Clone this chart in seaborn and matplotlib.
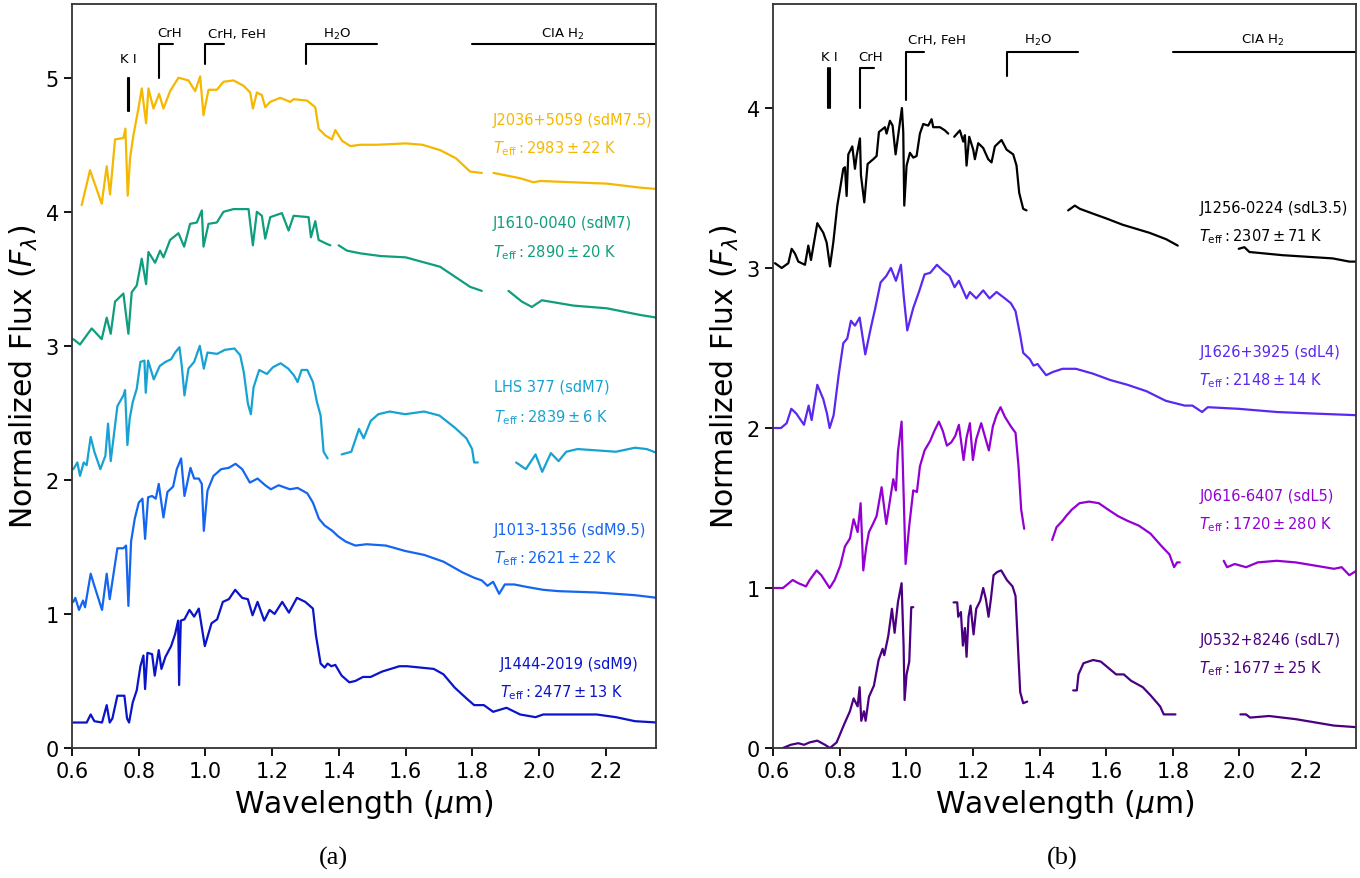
import numpy as np
import pandas as pd
import matplotlib
matplotlib.use("Agg")
import matplotlib.pyplot as plt
import seaborn as sns

nan = float("nan")

# ---- panel (a): sdM spectra (wavelength in micron, normalized flux + offset) ----
j2036_wl = [0.629, 0.654, 0.689, 0.704, 0.714, 0.729, 0.754, 0.760, 0.767, 0.774, 0.784, 0.799, 0.809,
            0.822, 0.829, 0.844, 0.861, 0.874, 0.894, 0.919, 0.949, 0.969, 0.984, 0.994, 1.009, 1.034,
            1.054, 1.084, 1.114, 1.134, 1.142, 1.154, 1.169, 1.179, 1.194, 1.224, 1.254, 1.264, 1.304,
            1.329, 1.339, 1.359, 1.379, 1.389, 1.409, 1.434, 1.464, 1.514, 1.600, 1.650, 1.703, 1.750,
            1.793, 1.828, nan, 1.863, 1.903, 1.943, 1.983, 2.003, 2.102, 2.203, 2.303, 2.353]
j2036_fl = [4.05, 4.31, 4.06, 4.34, 4.13, 4.54, 4.55, 4.62, 4.12, 4.40, 4.57, 4.77, 4.92,
            4.66, 4.92, 4.77, 4.88, 4.77, 4.90, 5.00, 4.98, 4.90, 5.01, 4.72, 4.91, 4.91,
            4.97, 4.98, 4.94, 4.89, 4.77, 4.89, 4.87, 4.78, 4.82, 4.85, 4.82, 4.84, 4.83,
            4.78, 4.62, 4.57, 4.54, 4.61, 4.53, 4.49, 4.50, 4.50, 4.51, 4.50, 4.46, 4.40,
            4.30, 4.29, nan, 4.29, 4.27, 4.25, 4.22, 4.23, 4.22, 4.21, 4.18, 4.17]

j1610_wl = [0.604, 0.624, 0.659, 0.689, 0.704, 0.716, 0.729, 0.754, 0.769, 0.779, 0.794, 0.809, 0.822,
            0.829, 0.849, 0.864, 0.874, 0.894, 0.919, 0.936, 0.954, 0.974, 0.989, 0.994, 1.009, 1.034,
            1.054, 1.084, 1.129, 1.142, 1.154, 1.169, 1.179, 1.194, 1.229, 1.249, 1.264, 1.309, 1.316,
            1.329, 1.339, 1.364, 1.374, nan, 1.399, 1.424, 1.464, 1.524, 1.600, 1.703, 1.793, 1.828,
            nan, 1.908, 1.948, 1.978, 2.008, 2.103, 2.203, 2.303, 2.353]
j1610_fl = [3.05, 3.01, 3.13, 3.05, 3.21, 3.09, 3.33, 3.39, 3.09, 3.40, 3.45, 3.65, 3.46,
            3.70, 3.62, 3.71, 3.66, 3.79, 3.84, 3.74, 3.91, 3.92, 4.01, 3.74, 3.91, 3.92,
            4.00, 4.02, 4.02, 3.75, 4.00, 3.97, 3.80, 3.96, 3.99, 3.86, 3.97, 3.96, 3.81,
            3.93, 3.79, 3.76, 3.75, nan, 3.75, 3.71, 3.69, 3.67, 3.66, 3.59, 3.44, 3.41,
            nan, 3.41, 3.33, 3.29, 3.34, 3.30, 3.28, 3.23, 3.21]

lhs377_wl = [0.604, 0.616, 0.624, 0.635, 0.644, 0.656, 0.667, 0.685, 0.700, 0.708, 0.716, 0.736, 0.754,
             0.759, 0.766, 0.773, 0.782, 0.794, 0.805, 0.817, 0.821, 0.828, 0.845, 0.863, 0.880, 0.897,
             0.909, 0.922, 0.929, 0.937, 0.949, 0.966, 0.983, 0.995, 1.006, 1.035, 1.058, 1.087, 1.104,
             1.115, 1.127, 1.136, 1.144, 1.161, 1.184, 1.202, 1.225, 1.248, 1.265, 1.276, 1.288, 1.305,
             1.322, 1.334, 1.345, 1.354, 1.366, nan, 1.408, 1.437, 1.460, 1.474, 1.495, 1.518, 1.552,
             1.598, 1.655, 1.701, 1.747, 1.782, 1.799, 1.805, 1.816, nan, 1.931, 1.960, 1.989, 2.009,
             2.035, 2.058, 2.081, 2.115, 2.173, 2.230, 2.287, 2.322, 2.354]
lhs377_fl = [2.08, 2.13, 2.03, 2.13, 2.11, 2.32, 2.21, 2.08, 2.18, 2.42, 2.14, 2.55, 2.63,
             2.67, 2.26, 2.46, 2.58, 2.68, 2.88, 2.89, 2.65, 2.89, 2.75, 2.85, 2.88, 2.90,
             2.95, 2.99, 2.85, 2.63, 2.83, 2.88, 3.00, 2.83, 2.95, 2.94, 2.97, 2.98, 2.93,
             2.80, 2.57, 2.49, 2.69, 2.82, 2.79, 2.84, 2.87, 2.83, 2.78, 2.73, 2.82, 2.82,
             2.73, 2.58, 2.48, 2.21, 2.16, nan, 2.19, 2.21, 2.38, 2.31, 2.44, 2.49, 2.51,
             2.49, 2.51, 2.48, 2.39, 2.31, 2.23, 2.13, 2.13, nan, 2.13, 2.08, 2.19, 2.06,
             2.20, 2.14, 2.21, 2.23, 2.22, 2.21, 2.24, 2.23, 2.20]

j1013_wl = [0.604, 0.610, 0.621, 0.633, 0.639, 0.656, 0.667, 0.690, 0.704, 0.713, 0.736, 0.754, 0.762,
            0.769, 0.777, 0.788, 0.800, 0.811, 0.819, 0.828, 0.840, 0.851, 0.860, 0.874, 0.886, 0.903,
            0.914, 0.927, 0.937, 0.955, 0.966, 0.980, 0.989, 0.995, 1.006, 1.024, 1.047, 1.070, 1.090,
            1.110, 1.133, 1.156, 1.179, 1.196, 1.219, 1.253, 1.276, 1.305, 1.322, 1.340, 1.357, 1.380,
            1.397, 1.420, 1.449, 1.483, 1.541, 1.598, 1.656, 1.713, 1.770, 1.805, 1.828, 1.845, 1.862,
            1.880, 1.897, 1.925, 1.966, 2.012, 2.058, 2.172, 2.287, 2.354]
j1013_fl = [1.09, 1.12, 1.03, 1.10, 1.05, 1.30, 1.21, 1.03, 1.30, 1.11, 1.49, 1.49, 1.51,
            1.06, 1.54, 1.71, 1.83, 1.86, 1.56, 1.87, 1.88, 1.86, 1.97, 1.72, 1.91, 1.95,
            2.08, 2.16, 1.88, 2.09, 2.01, 2.01, 1.97, 1.62, 1.92, 2.03, 2.08, 2.09, 2.12,
            2.08, 1.98, 2.01, 1.96, 1.93, 1.96, 1.93, 1.94, 1.90, 1.83, 1.71, 1.66, 1.62,
            1.58, 1.54, 1.51, 1.52, 1.51, 1.47, 1.44, 1.39, 1.31, 1.27, 1.25, 1.21, 1.24,
            1.15, 1.22, 1.22, 1.20, 1.18, 1.17, 1.16, 1.14, 1.12]

j1444_wl = [0.604, 0.644, 0.656, 0.667, 0.690, 0.704, 0.713, 0.721, 0.736, 0.757, 0.765, 0.771, 0.782,
            0.794, 0.805, 0.814, 0.819, 0.826, 0.840, 0.848, 0.860, 0.868, 0.880, 0.897, 0.909, 0.918,
            0.921, 0.926, 0.937, 0.952, 0.966, 0.980, 0.998, 1.018, 1.035, 1.052, 1.070, 1.089, 1.110,
            1.127, 1.141, 1.156, 1.176, 1.192, 1.207, 1.230, 1.250, 1.274, 1.299, 1.322, 1.331, 1.345,
            1.357, 1.366, 1.377, 1.389, 1.408, 1.431, 1.449, 1.472, 1.495, 1.529, 1.581, 1.604, 1.644,
            1.684, 1.713, 1.747, 1.782, 1.805, 1.834, 1.862, 1.902, 1.943, 1.989, 2.012, 2.058, 2.115,
            2.172, 2.230, 2.287, 2.354]
j1444_fl = [0.19, 0.19, 0.25, 0.20, 0.19, 0.32, 0.19, 0.22, 0.39, 0.39, 0.22, 0.19, 0.34,
            0.43, 0.61, 0.69, 0.44, 0.71, 0.70, 0.54, 0.73, 0.59, 0.68, 0.76, 0.85, 0.95,
            0.47, 0.95, 0.96, 1.03, 0.98, 1.04, 0.76, 0.93, 0.96, 1.09, 1.11, 1.18, 1.12,
            1.11, 0.99, 1.09, 0.95, 1.03, 1.00, 1.09, 1.01, 1.12, 1.09, 1.04, 0.84, 0.63,
            0.60, 0.63, 0.61, 0.62, 0.54, 0.49, 0.50, 0.53, 0.53, 0.57, 0.61, 0.61, 0.60,
            0.59, 0.55, 0.45, 0.37, 0.32, 0.32, 0.27, 0.30, 0.25, 0.23, 0.25, 0.25, 0.25,
            0.25, 0.23, 0.20, 0.19]

# ---- panel (b): sdL spectra ----
j1256_wl = [0.606, 0.626, 0.646, 0.656, 0.666, 0.676, 0.696, 0.706, 0.714, 0.733, 0.751, 0.761, 0.771,
            0.781, 0.793, 0.801, 0.811, 0.816, 0.821, 0.826, 0.838, 0.846, 0.851, 0.861, 0.864, 0.874,
            0.884, 0.901, 0.911, 0.918, 0.936, 0.941, 0.951, 0.959, 0.968, 0.981, 0.987, 0.991, 0.994,
            1.001, 1.011, 1.021, 1.031, 1.041, 1.051, 1.066, 1.076, 1.081, 1.101, 1.116, 1.126, nan,
            1.144, 1.161, 1.171, 1.176, 1.181, 1.189, 1.201, 1.206, 1.216, 1.231, 1.246, 1.256, 1.266,
            1.286, 1.301, 1.321, 1.331, 1.339, 1.351, 1.361, nan, 1.486, 1.506, 1.521, 1.560, 1.600,
            1.650, 1.730, 1.780, 1.815, nan, 1.998, 2.015, 2.030, 2.130, 2.280, 2.330, 2.355]
j1256_fl = [3.03, 3.00, 3.03, 3.12, 3.09, 3.04, 3.02, 3.14, 3.05, 3.28, 3.22, 3.16, 3.01,
            3.16, 3.39, 3.49, 3.62, 3.63, 3.45, 3.71, 3.76, 3.62, 3.70, 3.81, 3.58, 3.41,
            3.65, 3.68, 3.70, 3.85, 3.88, 3.84, 3.92, 3.89, 3.71, 3.91, 4.00, 3.85, 3.39,
            3.64, 3.72, 3.69, 3.70, 3.84, 3.90, 3.89, 3.93, 3.88, 3.88, 3.86, 3.84, nan,
            3.82, 3.86, 3.79, 3.83, 3.64, 3.82, 3.74, 3.68, 3.78, 3.75, 3.68, 3.66, 3.76,
            3.80, 3.74, 3.71, 3.64, 3.47, 3.37, 3.36, nan, 3.36, 3.39, 3.37, 3.34, 3.31,
            3.27, 3.22, 3.18, 3.14, nan, 3.12, 3.13, 3.10, 3.08, 3.06, 3.04, 3.04]

j1626_wl = [0.604, 0.624, 0.641, 0.655, 0.670, 0.693, 0.707, 0.716, 0.733, 0.751, 0.762, 0.770, 0.782,
            0.797, 0.811, 0.823, 0.834, 0.846, 0.860, 0.877, 0.894, 0.906, 0.923, 0.940, 0.954, 0.969,
            0.984, 0.993, 1.003, 1.021, 1.038, 1.055, 1.072, 1.092, 1.112, 1.130, 1.145, 1.158, 1.181,
            1.191, 1.210, 1.231, 1.250, 1.271, 1.296, 1.314, 1.328, 1.342, 1.351, 1.371, 1.382, 1.394,
            1.405, 1.420, 1.440, 1.469, 1.509, 1.560, 1.612, 1.664, 1.721, 1.779, 1.836, 1.859, 1.888,
            1.905, 1.997, 2.112, 2.227, 2.353]
j1626_fl = [2.00, 2.00, 2.03, 2.12, 2.09, 2.02, 2.14, 2.05, 2.27, 2.18, 2.09, 2.00, 2.08,
            2.33, 2.53, 2.56, 2.67, 2.64, 2.69, 2.46, 2.63, 2.74, 2.91, 2.95, 3.00, 2.92,
            3.02, 2.81, 2.61, 2.75, 2.85, 2.96, 2.97, 3.02, 2.98, 2.95, 2.88, 2.92, 2.81,
            2.85, 2.81, 2.86, 2.81, 2.85, 2.81, 2.78, 2.73, 2.58, 2.47, 2.43, 2.39, 2.40,
            2.37, 2.33, 2.35, 2.37, 2.37, 2.34, 2.30, 2.27, 2.23, 2.17, 2.14, 2.14, 2.10,
            2.13, 2.12, 2.10, 2.09, 2.08]

j0616_wl = [0.604, 0.630, 0.659, 0.676, 0.699, 0.710, 0.731, 0.745, 0.770, 0.785, 0.802, 0.816, 0.831,
            0.842, 0.854, 0.863, 0.871, 0.880, 0.888, 0.900, 0.911, 0.926, 0.940, 0.952, 0.961, 0.969,
            0.975, 0.986, 0.998, 1.009, 1.021, 1.032, 1.041, 1.055, 1.072, 1.084, 1.098, 1.110, 1.122,
            1.135, 1.147, 1.158, 1.172, 1.181, 1.191, 1.200, 1.210, 1.225, 1.233, 1.248, 1.260, 1.271,
            1.283, 1.296, 1.314, 1.328, 1.337, 1.345, 1.354, nan, 1.438, 1.451, 1.469, 1.480, 1.497,
            1.520, 1.549, 1.578, 1.606, 1.635, 1.664, 1.698, 1.733, 1.767, 1.790, 1.804, 1.813, 1.821,
            nan, 1.953, 1.963, 1.986, 2.020, 2.055, 2.112, 2.169, 2.227, 2.284, 2.307, 2.330, 2.353]
j0616_fl = [1.00, 1.00, 1.05, 1.03, 1.01, 1.05, 1.11, 1.08, 1.00, 1.05, 1.14, 1.26, 1.31,
            1.43, 1.35, 1.53, 1.11, 1.26, 1.35, 1.40, 1.45, 1.63, 1.40, 1.56, 1.68, 1.61,
            1.85, 2.04, 1.15, 1.39, 1.61, 1.60, 1.76, 1.86, 1.92, 1.98, 2.04, 1.98, 1.89,
            1.91, 1.95, 2.02, 1.80, 1.94, 2.03, 1.80, 1.93, 2.03, 1.97, 1.86, 2.01, 2.08,
            2.13, 2.07, 2.01, 1.97, 1.76, 1.49, 1.37, nan, 1.30, 1.38, 1.42, 1.45, 1.49,
            1.53, 1.54, 1.53, 1.49, 1.45, 1.42, 1.39, 1.34, 1.26, 1.21, 1.13, 1.16, 1.16,
            nan, 1.17, 1.13, 1.15, 1.13, 1.16, 1.17, 1.16, 1.14, 1.12, 1.13, 1.08, 1.11]

j0532_wl = [0.630, 0.653, 0.676, 0.693, 0.710, 0.733, 0.756, 0.771, 0.791, 0.814, 0.831, 0.842, 0.854,
            0.860, 0.865, 0.873, 0.878, 0.888, 0.903, 0.917, 0.929, 0.934, 0.946, 0.957, 0.965, 0.975,
            0.986, 0.992, 0.995, 1.001, 1.009, 1.015, 1.021, nan, 1.142, 1.153, 1.156, 1.164, 1.170,
            1.176, 1.181, 1.187, 1.193, 1.202, 1.210, 1.222, 1.231, 1.239, 1.247, 1.254, 1.262, 1.273,
            1.285, 1.302, 1.319, 1.328, 1.337, 1.342, 1.351, 1.363, nan, 1.501, 1.512, 1.517, 1.532,
            1.561, 1.584, 1.607, 1.630, 1.653, 1.675, 1.710, 1.733, 1.762, 1.773, 1.808, nan, 2.003,
            2.020, 2.032, 2.089, 2.170, 2.227, 2.284, 2.353]
j0532_fl = [0.00, 0.02, 0.03, 0.02, 0.035, 0.046, 0.02, 0.00, 0.035, 0.15, 0.23, 0.31, 0.26,
            0.38, 0.17, 0.23, 0.17, 0.32, 0.39, 0.55, 0.62, 0.58, 0.70, 0.87, 0.72, 0.91,
            1.03, 0.64, 0.30, 0.46, 0.54, 0.88, 0.88, nan, 0.91, 0.91, 0.82, 0.85, 0.64,
            0.75, 0.57, 0.82, 0.89, 0.71, 0.87, 0.92, 1.00, 0.93, 0.82, 0.93, 1.08, 1.10,
            1.11, 1.05, 1.01, 0.95, 0.56, 0.35, 0.28, 0.29, nan, 0.36, 0.36, 0.46, 0.53,
            0.55, 0.54, 0.50, 0.46, 0.46, 0.42, 0.38, 0.33, 0.26, 0.21, 0.21, nan, 0.21,
            0.21, 0.19, 0.20, 0.18, 0.16, 0.14, 0.13]

names_a = ["J2036+5059 (sdM7.5)", "J1610-0040 (sdM7)", "LHS 377 (sdM7)",
           "J1013-1356 (sdM9.5)", "J1444-2019 (sdM9)"]
teff_a = [2983, 2890, 2839, 2621, 2477]
teff_err_a = [22, 20, 6, 22, 13]
names_b = ["J1256-0224 (sdL3.5)", "J1626+3925 (sdL4)", "J0616-6407 (sdL5)", "J0532+8246 (sdL7)"]
teff_b = [2307, 2148, 1720, 1677]
teff_err_b = [71, 14, 280, 25]

spectra_a = [(j2036_wl, j2036_fl), (j1610_wl, j1610_fl), (lhs377_wl, lhs377_fl),
             (j1013_wl, j1013_fl), (j1444_wl, j1444_fl)]
spectra_b = [(j1256_wl, j1256_fl), (j1626_wl, j1626_fl), (j0616_wl, j0616_fl), (j0532_wl, j0532_fl)]

colors_a = ["#f5b800", "#0f9e7d", "#17a2d3", "#1466f2", "#0a14c8"]
colors_b = ["#000000", "#5a28f0", "#9400d3", "#4b0082"]

# label placement (x, y of name; y of Teff line)
label_x_a = [1.862, 1.862, 1.866, 1.864, 1.883]
label_y_a = [4.69, 3.92, 2.70, 1.63, 0.63]
teff_y_a = [4.475, 3.70, 2.47, 1.42, 0.42]
label_x_b = 1.880
label_y_b = [3.38, 2.48, 1.58, 0.675]
teff_y_b = [3.20, 2.30, 1.40, 0.50]

sns.set_style("ticks", {"axes.labelcolor": "black", "text.color": "black"})
plt.rcParams["font.family"] = ["DejaVu Sans"]

fig = plt.figure(figsize=(13.6, 8.79), dpi=100)
ax_a = fig.add_axes([72 / 1360, 1 - 749 / 879, 584 / 1360, 744 / 879])
ax_b = fig.add_axes([773 / 1360, 1 - 749 / 879, 583 / 1360, 744 / 879])


def draw_spectrum(ax, wl, fl, color):
    df = pd.DataFrame({"wl": wl, "flux": fl})
    df["seg"] = df["flux"].isna().cumsum()
    df = df.dropna()
    sns.lineplot(data=df, x="wl", y="flux", units="seg", estimator=None, sort=False,
                 color=color, lw=1.6, ax=ax)


for (wl, fl), c in zip(spectra_a, colors_a):
    draw_spectrum(ax_a, wl, fl, c)
for (wl, fl), c in zip(spectra_b, colors_b):
    draw_spectrum(ax_b, wl, fl, c)

for i, c in enumerate(colors_a):
    ax_a.text(label_x_a[i], label_y_a[i], names_a[i], color=c, fontsize=10.5, va="center")
    ax_a.text(label_x_a[i], teff_y_a[i], rf"$T_{{\rm eff}}: {teff_a[i]} \pm {teff_err_a[i]}$ K",
              color=c, fontsize=10.5, va="center")
for i, c in enumerate(colors_b):
    ax_b.text(label_x_b, label_y_b[i], names_b[i], color=c, fontsize=10.5, va="center")
    ax_b.text(label_x_b, teff_y_b[i], rf"$T_{{\rm eff}}: {teff_b[i]} \pm {teff_err_b[i]}$ K",
              color=c, fontsize=10.5, va="center")


def mark_features(ax, top, k_lo, k_lab, crh_lo, crh_lab, feh_lo, h2o_lo):
    kw = dict(color="k", lw=1.5)
    for w in (0.7665, 0.7699):
        ax.plot([w, w], [k_lo, k_lo + 0.25], **kw)
    ax.text(0.768, k_lab, "K I", ha="center", va="center", fontsize=9.5)
    ax.plot([0.862, 0.862, 0.903], [crh_lo, crh_lo + 0.25, crh_lo + 0.25], **kw)
    ax.text(0.893, crh_lab, "CrH", ha="center", va="center", fontsize=9.5)
    ax.plot([0.999, 0.999, 1.054], [feh_lo, top, top], **kw)
    ax.text(1.093, top + 0.08, "CrH, FeH", ha="center", va="center", fontsize=9.5)
    ax.plot([1.302, 1.302, 1.515], [h2o_lo, top, top], **kw)
    ax.text(1.395, top + 0.08, r"H$_2$O", ha="center", va="center", fontsize=9.5)
    ax.plot([1.80, 2.35], [top, top], **kw)
    ax.text(2.07, top + 0.08, r"CIA H$_2$", ha="center", va="center", fontsize=9.5)


mark_features(ax_a, 5.25, 4.75, 5.14, 5.0, 5.34, 5.10, 5.10)
mark_features(ax_b, 4.35, 4.0, 4.32, 4.0, 4.32, 4.05, 4.20)

xt = [0.6, 0.8, 1.0, 1.2, 1.4, 1.6, 1.8, 2.0, 2.2]
for ax, ymax, yt in ((ax_a, 5.55, range(6)), (ax_b, 4.65, range(5))):
    ax.set_xlim(0.6, 2.35)
    ax.set_ylim(0, ymax)
    ax.set_xticks(xt)
    ax.set_xticklabels([f"{v:.1f}" for v in xt])
    ax.set_yticks(list(yt))
    ax.tick_params(labelsize=15, length=6, width=1.3, colors="k")
    for s in ax.spines.values():
        s.set_visible(True)
        s.set_linewidth(1.3)
        s.set_color("#333333")
    ax.set_xlabel(r"Wavelength ($\mu$m)", fontsize=21.5)
    ax.set_ylabel(r"Normalized Flux ($F_\lambda$)", fontsize=21.5)

fig.text(333 / 1360, 1 - 858 / 879, "(a)", family="Liberation Serif", fontsize=19,
         ha="center", va="center")
fig.text(1062 / 1360, 1 - 858 / 879, "(b)", family="Liberation Serif", fontsize=19,
         ha="center", va="center")

fig.savefig("out.png", dpi=100)
